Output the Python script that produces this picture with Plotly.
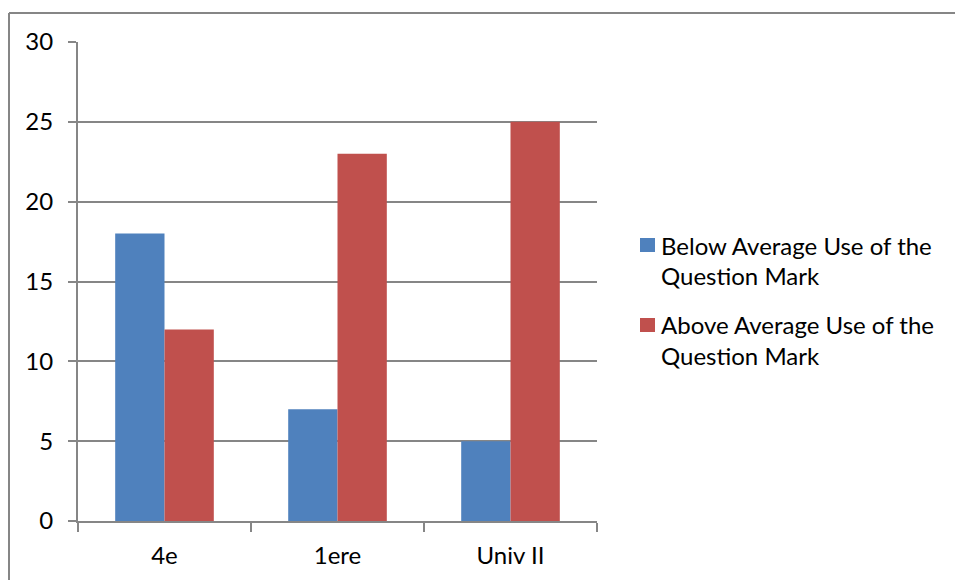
import plotly.graph_objects as go

# Data
categories = ["4e", "1ere", "Univ II"]
below_avg = [18, 7, 5]
above_avg = [12, 23, 25]
series_names = [
    ["Below Average Use of the", "Question Mark"],
    ["Above Average Use of the", "Question Mark"],
]
y_ticks = [0, 5, 10, 15, 20, 25, 30]

BLUE = "#4F81BD"
RED = "#C0504D"
GRID = "#868686"
FONT = "Lato"
FSIZE = 24

W, H = 955, 580
L, R, T, B = 78, 597, 42, 521  # plot area edges in pixels

fig = go.Figure()
fig.add_trace(go.Bar(x=categories, y=below_avg, marker=dict(color=BLUE, line_width=0),
                     name=" ".join(series_names[0])))
fig.add_trace(go.Bar(x=categories, y=above_avg, marker=dict(color=RED, line_width=0),
                     name=" ".join(series_names[1])))

# paper coordinates are relative to the plot area
def px_x(x):
    return (x - L) / (R - L)

def px_y(y):
    return (B - y) / (B - T)

shapes = []
annotations = []
# Outer frame (top and left edges)
shapes.append(dict(type="line", xref="paper", yref="paper", x0=px_x(9), x1=px_x(W + 2),
                   y0=px_y(13), y1=px_y(13), line=dict(color=GRID, width=2)))
shapes.append(dict(type="line", xref="paper", yref="paper", x0=px_x(9), x1=px_x(9),
                   y0=px_y(13), y1=px_y(H + 2), line=dict(color=GRID, width=2)))

# Custom legend
colors = [BLUE, RED]
centers = [245, 325]
for c, color, lines in zip(centers, colors, series_names):
    shapes.append(dict(type="rect", xref="paper", yref="paper",
                       x0=px_x(640), x1=px_x(655), y0=px_y(c - 7), y1=px_y(c + 7),
                       fillcolor=color, line_width=0))
    for i, txt in enumerate(lines):
        annotations.append(dict(text=txt, xref="paper", yref="paper",
                                x=px_x(659), y=px_y(c + 30 * i), xanchor="left",
                                yanchor="middle", showarrow=False,
                                font=dict(family=FONT, size=FSIZE, color="black")))

fig.update_layout(
    width=W, height=H, autosize=False,
    margin=dict(l=L, r=W - R, t=T, b=H - B, pad=0),
    paper_bgcolor="white", plot_bgcolor="white",
    barmode="group", bargap=0.43, bargroupgap=0,
    showlegend=False,
    font=dict(family=FONT, size=FSIZE, color="black"),
    shapes=shapes, annotations=annotations,
)
fig.update_xaxes(
    showline=True, linecolor=GRID, linewidth=2,
    ticks="outside", tickson="boundaries", ticklen=9, tickcolor=GRID, tickwidth=2,
    showgrid=False, ticklabelstandoff=12,
    tickfont=dict(family=FONT, size=FSIZE, color="black"),
)
fig.update_yaxes(
    range=[0, 30], tickvals=y_ticks,
    showline=True, linecolor=GRID, linewidth=2,
    ticks="outside", ticklen=8, tickcolor=GRID, tickwidth=2,
    showgrid=True, gridcolor=GRID, gridwidth=2, zeroline=False,
    ticklabelstandoff=10,
    tickfont=dict(family=FONT, size=FSIZE, color="black"),
)

fig.write_html("out.html")
